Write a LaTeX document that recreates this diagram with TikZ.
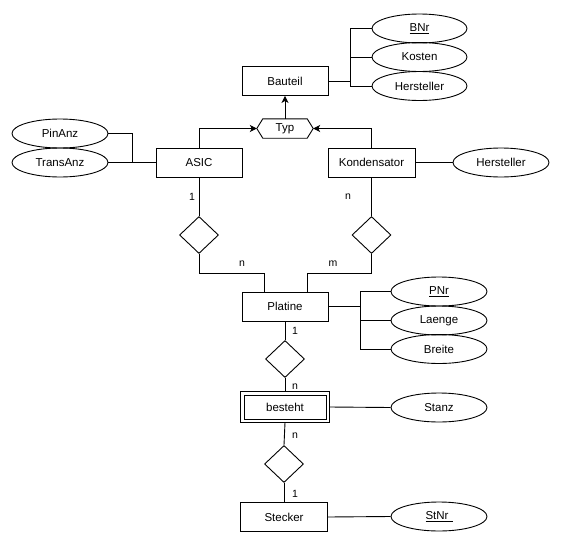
\documentclass[tikz,border=0pt]{standalone}
\usepackage{fontspec}
\setmainfont{Liberation Sans}
\usetikzlibrary{shapes.geometric,arrows.meta,calc}
\begin{document}
\begin{tikzpicture}[x=1pt,y=-1pt,
  every node/.style={font=\fontsize{11.5}{13}\selectfont},
  ent/.style={draw,rectangle,minimum width=86pt,minimum height=29pt,inner sep=0pt,line width=0.9pt},
  attr/.style={draw,ellipse,minimum width=96pt,minimum height=29pt,inner sep=0pt,line width=0.9pt},
  rel/.style={draw,diamond,minimum width=39pt,minimum height=37pt,inner sep=0pt,aspect=1.05,line width=0.9pt},
  conn/.style={line width=0.9pt},
  card/.style={font=\fontsize{10.5}{12}\selectfont,inner sep=0pt},
  arr/.style={conn,-{Stealth[length=7pt,width=7pt,inset=2pt]}}]
\useasboundingbox (0,0) rectangle (568,557);
% entities
\node[ent] (bauteil) at (285,81) {Bauteil};
\node[ent] (asic) at (199,162.5) {ASIC};
\node[ent,minimum width=87pt] (kond) at (371.5,162.5) {Kondensator};
\node[ent] (platine) at (285,306.5) {Platine};
\node[draw,rectangle,minimum width=82pt,minimum height=24pt,inner sep=0pt,line width=0.9pt] (besteht) at (285,407) {besteht};
\draw[line width=0.9pt] ([xshift=-3pt,yshift=3pt]besteht.north west) rectangle ([xshift=3pt,yshift=-3pt]besteht.south east);
\node[ent,minimum width=87pt] (stecker) at (284,517) {Stecker};
% attributes
\node[attr,minimum width=95pt] (bnr) at (419.5,28.5) {\underline{BNr}};
\node[attr,minimum width=95pt] (kosten) at (419.5,57) {Kosten};
\node[attr,minimum width=95pt] (herst1) at (419.5,86) {Hersteller};
\node[attr] (pin) at (60,133.5) {PinAnz};
\node[attr] (trans) at (60,162.5) {TransAnz};
\node[attr] (herst2) at (501,162.5) {Hersteller};
\node[attr] (pnr) at (439,291.5) {\underline{PNr}};
\node[attr] (laenge) at (439,320.5) {Laenge};
\node[attr] (breite) at (439,349) {Breite};
\node[attr] (stanz) at (439,407.5) {Stanz};
\node[attr] (stnr) at (439,516.5) {\underline{StNr\hspace{4pt}}};
% relationships
\node[rel] (d1) at (199,235) {};
\node[rel] (d2) at (371.5,235) {};
\node[rel] (d3) at (285,359) {};
\node[rel] (d4) at (284,464) {};
% Typ hexagon
\node[minimum width=56pt,minimum height=19pt,inner sep=0pt] (typ) at (285,128.5) {Typ};
\draw[line width=0.9pt] (typ.west) -- ([xshift=6pt]typ.north west) -- ([xshift=-6pt]typ.north east) -- (typ.east) -- ([xshift=-6pt]typ.south east) -- ([xshift=6pt]typ.south west) -- cycle;
% connectors
\draw[arr] (typ.north) -- (bauteil.south);
\draw[arr] (asic.north) |- (typ.west);
\draw[arr] (kond.north) |- (typ.east);
\draw[conn] (bauteil.east) -- ++(22,0) |- (bnr.west);
\draw[conn] (bauteil.east) -- ++(22,0) |- (kosten.west);
\draw[conn] (bauteil.east) -- ++(22,0) |- (herst1.west);
\draw[conn] (pin.east) -| ($(trans.east)+(24,0)$);
\draw[conn] (trans.east) -- (asic.west);
\draw[conn] (kond.east) -- (herst2.west);
\draw[conn] (asic.south) -- (d1.north);
\draw[conn] (d1.south) -- ++(0,19) -| ([xshift=-21pt]platine.north);
\draw[conn] (kond.south) -- (d2.north);
\draw[conn] (d2.south) -- ++(0,19) -| ([xshift=22pt]platine.north);
\draw[conn] (platine.east) -- ++(32,0) |- (pnr.west);
\draw[conn] (platine.east) -- ++(32,0) |- (laenge.west);
\draw[conn] (platine.east) -- ++(32,0) |- (breite.west);
\draw[conn] (platine.south) -- (d3.north);
\draw[conn] (d3.south) -- ([yshift=3pt]besteht.north);
\draw[conn] ([xshift=3pt]besteht.east) -- (stanz.west);
\draw[conn] ([yshift=-3pt]besteht.south) -- (d4.north);
\draw[conn] (d4.south) -- (stecker.north);
\draw[conn] (stecker.east) -- (stnr.west);
% cardinalities
\node[card] (c1) at (192,197) {1};
\node[card] (c2) at (242,264) {n};
\node[card] (c3) at (348,197) {n};
\node[card] (c4) at (333,264) {m};
\node[card] (c5) at (295,331) {1};
\node[card] (c6) at (295,387) {n};
\node[card] (c7) at (295,436) {n};
\node[card] (c8) at (295,494) {1};
\end{tikzpicture}
\end{document}
